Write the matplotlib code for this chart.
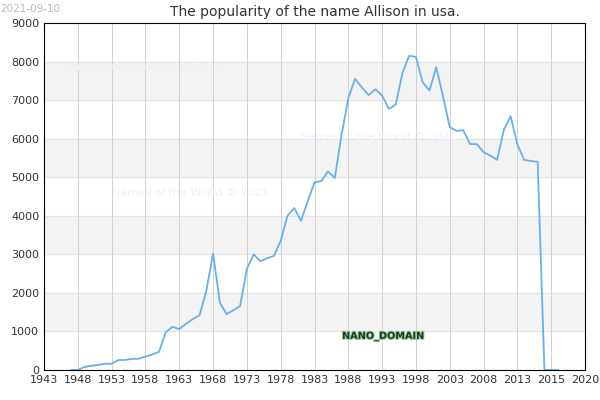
import matplotlib
matplotlib.use("Agg")
import matplotlib.pyplot as plt
import matplotlib.patheffects as pe

years = list(range(1947, 2020))
counts = [0, 0, 80, 110, 130, 160, 160, 260, 260, 290, 290, 350, 400, 470,
          980, 1120, 1060, 1200, 1320, 1420, 2050, 3020, 1750, 1450, 1550, 1660,
          2620, 3000, 2820, 2900, 2960, 3350, 4000, 4200, 3870, 4380, 4870, 4900,
          5150, 4980, 6100, 7050, 7550, 7330, 7130, 7280, 7120, 6770, 6880, 7700,
          8150, 8120, 7460, 7250, 7850, 7100, 6300, 6200, 6220, 5860, 5860, 5650,
          5560, 5450, 6230, 6580, 5850, 5450, 5420, 5400, 0, 0, 0]
tick_pos = list(range(1943, 2024, 5))
tick_labels = [str(y) for y in range(1943, 2014, 5)] + ["2015", "2020"]

fig = plt.figure(figsize=(6, 4), dpi=100)
ax = fig.add_axes([44 / 600, 30 / 400, (585 - 44) / 600, (370 - 23) / 400])
ax.set_xlim(1943, 2023)
ax.set_ylim(0, 9000)
for lo in (1000, 3000, 5000, 7000):
    ax.axhspan(lo, lo + 1000, color="#f3f3f3", zorder=0)
for y in range(1000, 9000, 1000):
    ax.axhline(y, color="#e2e2e2", lw=0.7, zorder=0.5)
for x in tick_pos[1:-1]:
    ax.axvline(x, color="#d0d0d0", lw=0.7, zorder=0.5)
ax.plot(years, counts, color="#6aaef0", lw=1.3, zorder=2)
ax.set_xticks(tick_pos)
ax.set_xticklabels(tick_labels)
ax.set_yticks(range(0, 9001, 1000))
ax.tick_params(labelsize=8, colors="#333333", length=0)
for s in ax.spines.values():
    s.set_color("#000000")
    s.set_linewidth(0.8)
ax.set_title("The popularity of the name Allison in usa.", fontsize=10, color="#333333", pad=5)
fig.text(0.0, 0.99, "2021-09-10", fontsize=7.5, color="#bbbbbb", va="top")
for (x, y) in [(65, 67), (300, 137), (112, 193)]:
    fig.text(x / 600, 1 - y / 400, "Names of the World © 2021", fontsize=8,
             color="#eeeeff", va="center")
fig.text(383 / 600, 1 - 336 / 400, "NANO_DOMAIN", fontsize=7, color="#1a3a1a",
         ha="center", va="center", weight="bold",
         path_effects=[pe.withStroke(linewidth=1.5, foreground="#9ec9a8")])
fig.savefig("out.png")
